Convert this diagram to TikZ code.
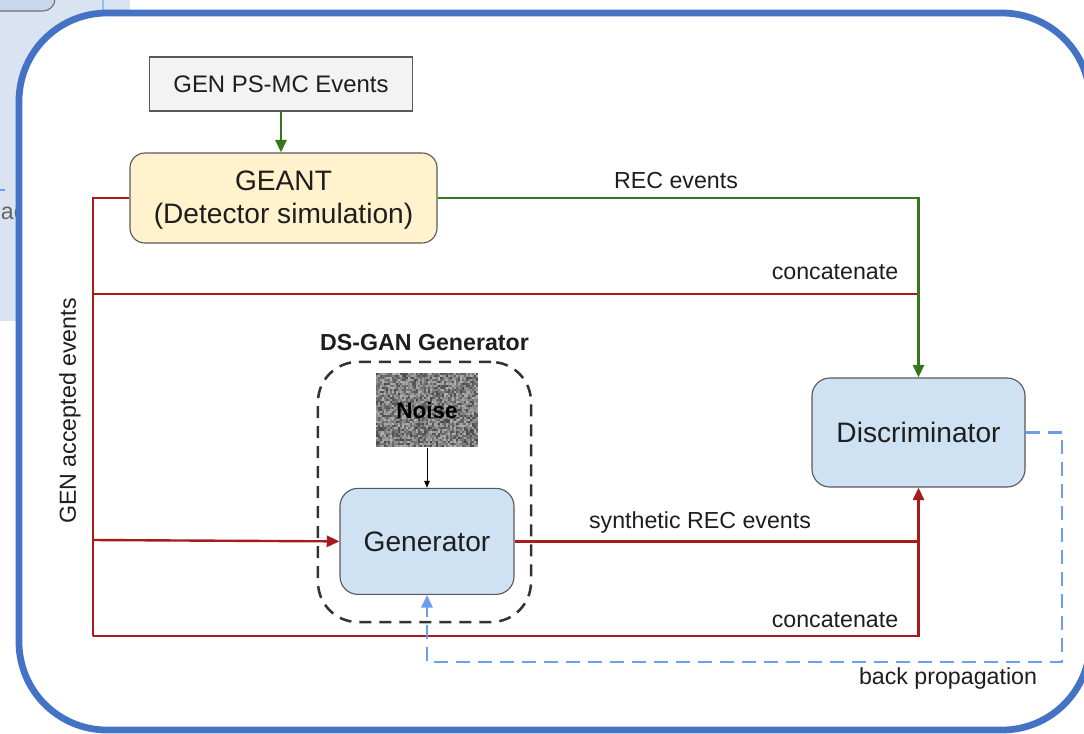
\documentclass[tikz,border=0pt]{standalone}
\usepackage{fontspec}
\setmainfont{Liberation Sans}
\usepackage{tikz}
\usetikzlibrary{calc,arrows.meta}
\usetikzlibrary{positioning}
\definecolor{ds-text}{HTML}{1E1E1E}
\definecolor{ds-red}{HTML}{A61C1C}
\definecolor{ds-green}{HTML}{38761D}
\definecolor{ds-blue}{HTML}{6D9EEB}
\definecolor{ds-frame}{HTML}{4472C4}
\definecolor{ds-panel}{HTML}{D9E3F2}
\definecolor{ds-tab}{HTML}{C6D7EE}
\definecolor{ds-fillblue}{HTML}{CFE2F3}
\definecolor{ds-yellow}{HTML}{FFF2CC}
\definecolor{ds-grey}{HTML}{F3F3F3}
\definecolor{ds-border}{HTML}{595959}
\newcommand{\labelsize}{\fontsize{16.5}{19}\selectfont}
\newcommand{\boxsize}{\fontsize{20}{24}\selectfont}

\begin{document}
\begin{tikzpicture}[
    x=0.025cm, y=-0.025cm,
    font=\labelsize,
    text=ds-text,
    >={Triangle[length=9pt,width=8pt]}
  ]

  % Styles for the boxes and the three kinds of connector
  \tikzset{
    box/.style={draw=ds-border, fill=ds-fillblue, rounded corners=0.45cm, line width=0.8pt, align=center, font=\boxsize},
    source/.style={draw=ds-border, fill=ds-grey, minimum width=6.575cm, minimum height=1.35cm, line width=0.8pt, font=\fontsize{17}{20}\selectfont},
    sim/.style={box, fill=ds-yellow, rounded corners=0.375cm, minimum width=7.675cm, minimum height=2.25cm},
    noisebox/.style={minimum width=2.575cm, minimum height=1.85cm, text=black, font=\bfseries\fontsize{16}{19}\selectfont},
    group/.style={draw=black!80, dash pattern=on 0.3cm off 0.2cm, line width=1.8pt, rounded corners=1cm, minimum width=5.325cm, minimum height=6.5cm},
    redline/.style={draw=ds-red, line width=1.7pt},
    greenline/.style={draw=ds-green, line width=1.7pt},
    blueline/.style={draw=ds-blue, line width=1.6pt, dash pattern=on 0.35cm off 0.2cm}
  }

  \useasboundingbox (0,0) rectangle (1084,733);

  % Screenshot surroundings
  \fill[ds-panel] (0,0) rectangle (130,321);
  \draw[fill=ds-tab, draw=black!55, line width=0.8pt, rounded corners=0.3cm] (-30,-30) rectangle (55,11);
  \draw[ds-blue!70, line width=2pt] (103,0) -- (103,14);
  \draw[ds-blue, line width=1.5pt] (0,190) -- (5,190);
  \node (cutLbl) [anchor=west, text=black!60] at (-4,213) {ac};

  % Outer frame
  \draw[ds-frame, line width=4.8pt, fill=white, rounded corners=2.2cm] (19,13) rectangle (1090,730);

  % Boxes
  \node (gen)   [source] at (281,84) {GEN PS-MC Events};
  \node (geant) [sim] at (283.5,198) {\strut GEANT\\(Detector simulation)};
  \node (group) [group] at (424.5,492) {};
  \node (groupLbl) [above=0.12cm of group, font=\bfseries\fontsize{16.5}{19}\selectfont] {DS-GAN Generator};

  % Noise texture
  \pgfmathsetseed{42}
  \foreach \i in {0,...,50}
    \foreach \j in {0,...,36} {
      \pgfmathrandominteger{\g}{30}{72}
      \fill[black!\g] (376+\i*2,373+\j*2) rectangle ++(2.05,2.05);
    }
  \node (noise) [noisebox] at (427,410.5) {Noise};
  \node (generator) [box, minimum width=4.35cm, minimum height=2.65cm, below=1.0cm of noise] {Generator};
  \node (disc) [box, minimum width=5.325cm, minimum height=2.725cm] at (918.5,432.5) {Discriminator};

  % Corner points of the connectors
  \coordinate (colTop) at (93,198);
  \coordinate (colBot) at (93,636);
  \coordinate (catUp)  at (93,294);
  \coordinate (genIn)  at (93,540);
  \coordinate (bpCorner) at (1062,662);

  % Red connectors (GEN accepted events)
  \draw[redline] (geant.west) -- (colTop) -- (colBot);
  \draw[redline,->] (colBot) -| (disc.south);
  \draw[redline] (catUp) -- (catUp -| disc.north);
  \draw[redline,->] (genIn) -- (generator.west);
  \draw[redline] (generator.east) -- (generator.east -| disc.south);

  % Green connectors
  \draw[greenline,->] (gen.south) -- (gen.south |- geant.north);
  \draw[greenline,->] (geant.east) -| (disc.north);

  % Noise into generator
  \draw[-{Triangle[length=5pt,width=4pt]}, black, line width=0.7pt] (noise.south) -- (generator.north);

  % Back propagation
  \draw[blueline,->] (disc.east) -| (bpCorner) -| (generator.south);

  % Connector labels
  \node (recLbl)    at (676,181) {REC events};
  \node (catTopLbl) at (835,272) {concatenate};
  \node (synthLbl)  at (700,522) {synthetic REC events};
  \node (catBotLbl) at (835,620) {concatenate};
  \node (bpLbl)     at (948,678) {back propagation};
  \node (accLbl) [rotate=90] at (70,411) {GEN accepted events};

\end{tikzpicture}
\end{document}
